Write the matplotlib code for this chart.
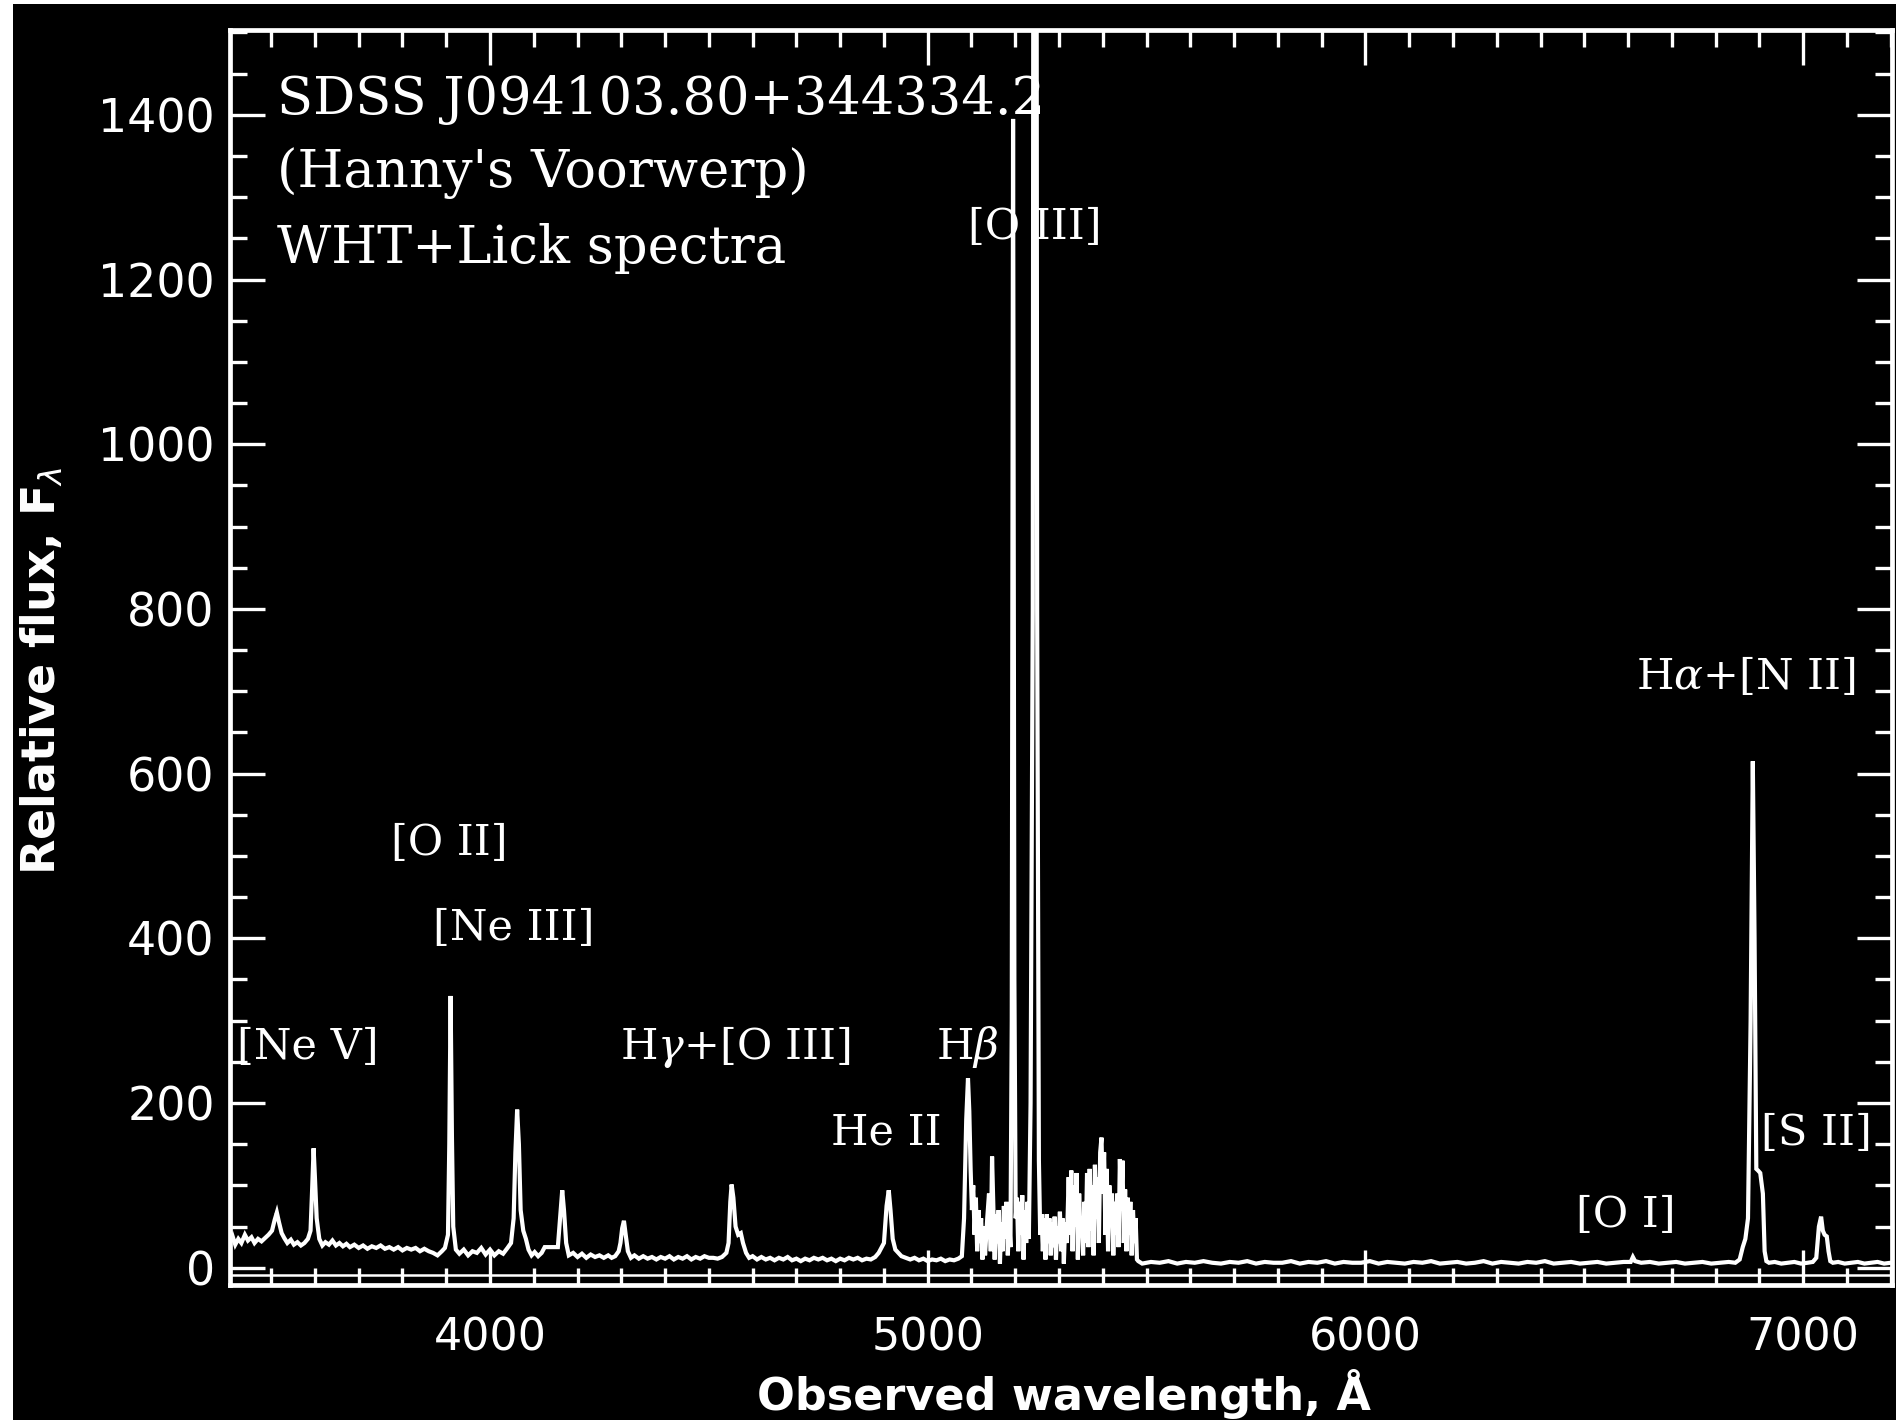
import matplotlib
matplotlib.use('Agg')
import matplotlib.pyplot as plt
from matplotlib.patches import Rectangle
import numpy as np

# spectrum vertices: observed wavelength (A), relative flux
wave = [3405, 3412, 3418, 3425, 3432, 3440, 3447, 3455, 3462, 3470, 3478, 3486, 3494,
        3502, 3508, 3513, 3518, 3524, 3530, 3537, 3545, 3552, 3560, 3568, 3576, 3584,
        3590, 3594, 3597, 3600, 3604, 3610, 3617, 3624, 3632, 3640, 3648, 3656, 3664,
        3672, 3680, 3690, 3700, 3710, 3720, 3730, 3740, 3750, 3760, 3770, 3780, 3790,
        3800, 3810, 3820, 3830, 3840, 3850, 3860, 3870, 3880, 3890, 3897,
        3904, 3907, 3910, 3913, 3916, 3922, 3930, 3940, 3950, 3960, 3970, 3980, 3990,
        4000, 4010, 4020, 4030, 4040, 4048,
        4054, 4058, 4062, 4066, 4070, 4076, 4082, 4088, 4095, 4102, 4110, 4118, 4125,
        4155, 4160, 4165, 4169, 4174, 4180, 4190, 4200, 4210, 4220, 4230, 4240, 4250,
        4260, 4270, 4278, 4286, 4294,
        4298, 4302, 4306, 4310, 4315, 4322, 4330, 4340, 4350, 4360, 4370, 4380, 4390,
        4400, 4410, 4420, 4430, 4440, 4450, 4460, 4470, 4480, 4490, 4500, 4510, 4520,
        4530, 4540,
        4545, 4549, 4552, 4556, 4561, 4567, 4573, 4578, 4585, 4592, 4600, 4610,
        4620, 4630, 4640, 4650, 4660, 4670, 4680, 4690, 4700, 4710, 4720, 4730, 4740,
        4750, 4760, 4770, 4780, 4790, 4800, 4810, 4820, 4830, 4840, 4850, 4860, 4870,
        4880, 4888,
        4900, 4906, 4911, 4915, 4920, 4926, 4933, 4940, 4950, 4960, 4970, 4980, 4990,
        5000, 5010, 5020, 5030, 5040, 5050, 5060, 5070, 5078,
        5083, 5088, 5092, 5095, 5098, 5101, 5104, 5107, 5110, 5113, 5116, 5119, 5122,
        5125, 5128, 5131,
        5136, 5140, 5144, 5147, 5150, 5153, 5156, 5159, 5162, 5165, 5168, 5171, 5174,
        5177, 5180, 5183, 5186, 5189,
        5192, 5195, 5198, 5201, 5204, 5207, 5210, 5213, 5216, 5219, 5222, 5225, 5228,
        5231, 5235,
        5240, 5245, 5250, 5254, 5257, 5260, 5263, 5266, 5269, 5272, 5275, 5278, 5281,
        5284, 5287, 5290, 5293, 5296, 5299, 5302, 5305, 5308, 5311, 5314,
        5318, 5322, 5325, 5328, 5331, 5334, 5337, 5340, 5343, 5346, 5349, 5352, 5355,
        5358, 5361, 5364, 5367, 5370, 5373, 5376, 5379, 5382, 5385, 5388, 5391, 5394,
        5397, 5400, 5403, 5406, 5409, 5412, 5415, 5418, 5421, 5424, 5427, 5430, 5433,
        5436, 5439, 5442, 5445, 5448, 5451, 5454, 5457, 5460, 5463, 5466, 5469, 5472,
        5475, 5478, 5481,
        5490, 5510, 5530, 5550, 5570, 5590, 5610, 5630, 5650, 5670, 5690, 5710, 5730,
        5750, 5770, 5790, 5810, 5830, 5850, 5870, 5890, 5910, 5930, 5950, 5970, 5990,
        6010, 6030, 6050, 6070, 6090, 6110, 6130, 6150, 6170, 6190, 6210, 6230, 6250,
        6270, 6290, 6310, 6330, 6350, 6370, 6390, 6410, 6430, 6450, 6470, 6490, 6510,
        6530, 6550, 6570, 6590, 6606, 6611, 6616, 6630, 6650, 6670, 6690, 6710, 6730,
        6750, 6770, 6790, 6810, 6830, 6845,
        6855, 6862, 6868, 6874, 6880, 6885, 6889, 6893, 6897, 6902, 6908, 6912, 6916,
        6922, 6935, 6950, 6965, 6980, 6995, 7010, 7022,
        7030, 7036, 7041, 7045, 7049, 7054, 7058, 7062, 7068,
        7080, 7095, 7110, 7125, 7140, 7155, 7170, 7185, 7200]

flux = [30, 38, 28, 35, 30, 40, 33, 37, 30, 35, 32, 36, 40,
        45, 58, 67, 55, 42, 36, 30, 34, 28, 31, 27, 30, 35,
        45, 100, 145, 110, 60, 35, 27, 31, 28, 33, 27, 30, 26,
        29, 25, 28, 24, 27, 23, 26, 24, 27, 23, 25, 22, 25,
        21, 24, 22, 24, 20, 23, 20, 18, 15, 20, 24,
        40, 150, 330, 160, 50, 22, 17, 22, 15, 20, 18, 24, 16,
        22, 15, 20, 17, 24, 30,
        60, 140, 192, 150, 70, 45, 35, 22, 15, 19, 14, 18, 25,
        25, 60, 94, 70, 30, 15, 18, 13, 17, 12, 16, 13, 15,
        12, 15, 12, 14, 20,
        30, 48, 57, 40, 20, 12, 15, 11, 14, 11, 13, 10, 13,
        11, 14, 10, 13, 11, 14, 10, 13, 11, 14, 12, 12, 11,
        13, 18,
        30, 80, 101, 85, 50, 40, 42, 30, 18, 12, 14, 10,
        13, 10, 12, 9, 12, 10, 13, 9, 11, 8, 11, 9, 12,
        10, 12, 9, 11, 8, 11, 9, 12, 10, 12, 9, 11, 10,
        13, 18,
        30, 75, 94, 70, 35, 22, 18, 14, 12, 10, 12, 9, 11,
        8, 10, 9, 11, 8, 10, 9, 11, 14,
        60, 180, 230, 190, 120, 70, 100, 40, 85, 20, 70, 30, 60,
        10, 50, 15,
        60, 90, 20, 135, 70, 10, 65, 30, 70, 5, 55, 20, 75,
        35, 80, 15, 60, 25,
        300, 1395, 350, 60, 85, 20, 80, 40, 88, 10, 70, 30, 80,
        35, 200,
        800, 4200, 800, 130, 40, 65, 20, 60, 10, 65, 30, 60, 15,
        55, 25, 62, 10, 50, 30, 68, 20, 60, 5, 55,
        30, 110, 40, 118, 20, 100, 50, 115, 10, 90, 40, 60, 15,
        80, 30, 115, 25, 120, 45, 100, 15, 125, 60, 110, 30, 140,
        158, 90, 140, 40, 120, 20, 100, 50, 90, 15, 80, 40, 90,
        25, 132, 70, 130, 30, 95, 20, 85, 40, 80, 15, 70, 30,
        60, 10, 8,
        5, 7, 6, 8, 5, 7, 6, 8, 6, 5, 7, 6, 8,
        5, 7, 6, 6, 8, 5, 7, 6, 8, 5, 7, 6, 6,
        8, 5, 7, 6, 5, 7, 6, 8, 5, 6, 7, 5, 6,
        8, 5, 7, 6, 5, 7, 6, 8, 5, 6, 7, 5, 6,
        7, 5, 6, 7, 7, 13, 8, 6, 7, 5, 6, 7, 5,
        6, 7, 5, 6, 7, 6,
        10, 25, 35, 60, 300, 615, 400, 120, 118, 115, 90, 20, 8,
        6, 7, 5, 6, 7, 5, 6, 7,
        12, 50, 62, 45, 40, 38, 20, 8, 6,
        7, 5, 6, 7, 5, 6, 7, 5, 6]

xticks = [4000, 5000, 6000, 7000]
yticks = [0, 200, 400, 600, 800, 1000, 1200, 1400]

info_lines = ['SDSS J094103.80+344334.2', "(Hanny's Voorwerp)", 'WHT+Lick spectra']

line_names = ['[Ne V]', '[O II]', '[Ne III]', r'H$\gamma$+[O III]', r'H$\beta$',
              'He II', '[O III]', r'H$\alpha$+[N II]', '[S II]', '[O I]']
label_wave = [3584, 3906, 4055, 4560, 5090, 4905, 5245, 6869, 7031, 6595]
label_flux = [268, 516, 413, 268, 268, 164, 1264, 718, 164, 64]

fig = plt.figure(figsize=(18.96, 14.2), dpi=100, facecolor='black')
# thin white margin on the left and top of the original scan
fig.patches.append(Rectangle((0, 0), 13 / 1896, 1, transform=fig.transFigure,
                             facecolor='white', edgecolor='none', zorder=-10))
fig.patches.append(Rectangle((0, 1 - 4 / 1420), 1, 4 / 1420, transform=fig.transFigure,
                             facecolor='white', edgecolor='none', zorder=-10))
ax = fig.add_axes([230 / 1896, 1 - 1285 / 1420, 1662 / 1896, 1255 / 1420])
ax.set_facecolor('black')

ax.plot(wave, flux, color='white', lw=3, solid_joinstyle='miter')
ax.axhline(-9, color='white', lw=1.8)

ax.set_xlim(3406, 7203)
ax.set_ylim(-21, 1503)

ax.set_xticks(xticks)
ax.set_yticks(yticks)
ax.set_xticks(np.arange(3500, 7201, 100), minor=True)
ax.set_yticks(np.arange(0, 1501, 50), minor=True)
for s in ax.spines.values():
    s.set_color('white')
    s.set_linewidth(3.4)
ax.tick_params(which='both', direction='in', top=True, right=True, colors='white', width=2.4)
ax.tick_params(which='major', length=25)
ax.tick_params(which='minor', length=12.5)
ax.tick_params(axis='x', which='major', pad=23, labelsize=32)
ax.tick_params(axis='y', which='major', pad=11, labelsize=33)

ty = [0.945, 0.886, 0.826]
for t, y in zip(info_lines, ty):
    ax.text(0.028, y, t, transform=ax.transAxes, color='white', fontsize=38,
            family='DejaVu Serif', va='center', ha='left')

for name, xw, yf in zip(line_names, label_wave, label_flux):
    ax.text(xw, yf, name, color='white', fontsize=31, family='DejaVu Serif',
            va='center', ha='center', math_fontfamily='dejavuserif')

fig.text(1064 / 1896, 1 - 1394 / 1420, 'Observed wavelength, Å', color='white',
         fontsize=32, fontweight='bold', ha='center', va='center')
fig.text(42 / 1896, 1 - 671 / 1420, r'Relative flux, F$_\lambda$', color='white',
         fontsize=33, fontweight='bold', ha='center', va='center', rotation=90)

fig.savefig('out.png', dpi=100, facecolor=fig.get_facecolor())
